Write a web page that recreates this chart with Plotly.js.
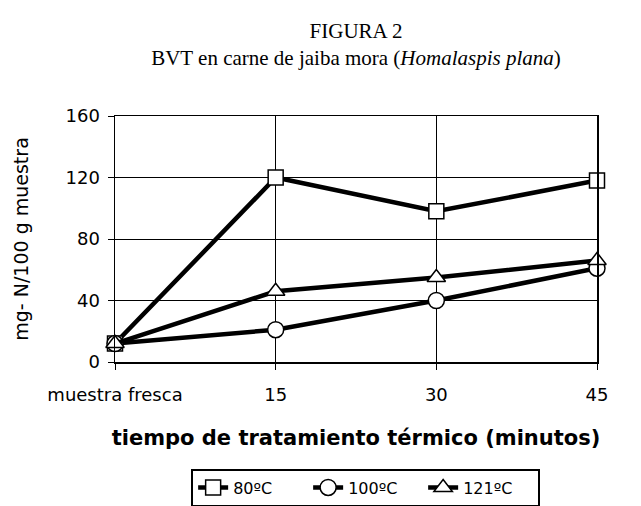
<!DOCTYPE html>
<html>
<head>
<meta charset="utf-8">
<script src="https://cdn.plot.ly/plotly-3.0.1.min.js"></script>
<style>html,body{margin:0;padding:0;background:#fff;}#chart{width:641px;height:506px;}</style>
</head>
<body>
<div id="chart"></div>
<script>
var categories = ["muestra fresca", "15", "30", "45"];
var series80 = [12, 120, 98, 118];
var series100 = [12, 21, 40, 61];
var series121 = [12, 46, 55, 66];
var seriesNames = ["80ºC", "100ºC", "121ºC"];

function mk(y, name, symbol, size) {
  return {
    x: categories, y: y, name: name, type: "scatter", mode: "lines+markers",
    line: {color: "#000", width: 4.5},
    marker: {symbol: symbol, size: size, color: "#fff", line: {color: "#000", width: 1.5}},
    cliponaxis: false
  };
}
var data = [
  mk(series80, seriesNames[0], "square", 15),
  mk(series100, seriesNames[1], "circle", 16),
  mk(series121, seriesNames[2], "triangle-up", 16)
];
var layout = {
  width: 641, height: 506,
  margin: {l: 115, r: 44, t: 116, b: 144},
  paper_bgcolor: "#fff", plot_bgcolor: "#fff",
  font: {family: "DejaVu Sans, Arial, sans-serif", color: "#000"},
  title: {
    text: "FIGURA 2<br>BVT en carne de jaiba mora (<i>Homalaspis plana</i>)",
    font: {family: "Liberation Serif, Times New Roman, serif", size: 21, color: "#000"},
    x: 0.5, xref: "paper", y: 0.925, yref: "container", yanchor: "top"
  },
  xaxis: {
    type: "category", range: [0, 3],
    showgrid: true, gridcolor: "#000", gridwidth: 1,
    showline: true, linecolor: "#000", linewidth: 1.5, mirror: true,
    ticks: "outside", ticklen: 6, tickcolor: "#000", ticklabelstandoff: 10,
    tickfont: {size: 18},
    title: {text: "<b>tiempo de tratamiento térmico (minutos)</b>", font: {size: 21}, standoff: 26},
    zeroline: false, automargin: false
  },
  yaxis: {
    range: [0, 160], dtick: 40,
    showgrid: true, gridcolor: "#000", gridwidth: 1,
    showline: true, linecolor: "#000", linewidth: 1.5, mirror: true,
    ticks: "outside", ticklen: 6, tickcolor: "#000", ticklabelstandoff: 4,
    tickfont: {size: 18},
    title: {text: "mg- N/100 g muestra", font: {size: 19}, standoff: 32},
    zeroline: false, automargin: false
  },
  showlegend: true,
  legend: {
    orientation: "h", x: 0.52, xanchor: "center", xref: "paper",
    y: 0.074, yanchor: "top", yref: "container",
    bordercolor: "#000", borderwidth: 2, font: {size: 16}, bgcolor: "#fff",
    entrywidth: 70, tracegroupgap: 0
  }
};
Plotly.newPlot("chart", data, layout, {staticPlot: true, displayModeBar: false});
</script>
</body>
</html>
